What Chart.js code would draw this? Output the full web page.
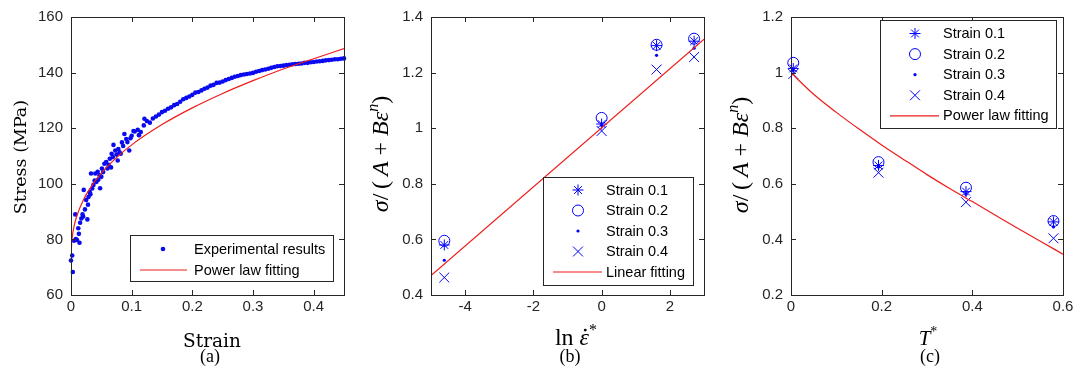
<!DOCTYPE html>
<html>
<head>
<meta charset="utf-8">
<script src="https://cdn.jsdelivr.net/npm/chart.js@4"></script>
<style>
  body { margin: 0; background: #fff; }
  #wrap { position: relative; width: 1080px; height: 375px; }
  canvas { position: absolute; top: 0; }
</style>
</head>
<body>
<div id="wrap">
  <canvas id="chartA" width="360" height="375" style="left:0"></canvas>
  <canvas id="chartB" width="360" height="375" style="left:360px"></canvas>
  <canvas id="chartC" width="360" height="375" style="left:720px"></canvas>
</div>
<script>
// (a) tensile test: measured points and power law fit
var expStrain = [
  0.000, 0.002, 0.003, 0.005, 0.007, 0.008, 0.010, 0.012, 0.013, 0.014,
  0.015, 0.017, 0.019, 0.020, 0.021, 0.023, 0.025, 0.027, 0.028, 0.029,
  0.031, 0.032, 0.033, 0.035, 0.037, 0.039, 0.040, 0.042, 0.044, 0.045,
  0.047, 0.048, 0.050, 0.051, 0.053, 0.055, 0.058, 0.060, 0.062, 0.064,
  0.066, 0.067, 0.069, 0.070, 0.073, 0.075, 0.077, 0.078, 0.080, 0.082,
  0.084, 0.086, 0.088, 0.091, 0.093, 0.096, 0.098, 0.100, 0.103, 0.105,
  0.110, 0.112, 0.115, 0.120, 0.121, 0.125, 0.130, 0.135, 0.140, 0.145,
  0.150, 0.155, 0.160, 0.165, 0.170, 0.175, 0.180, 0.185, 0.190, 0.195,
  0.200, 0.205, 0.210, 0.215, 0.220, 0.225, 0.230, 0.235, 0.240, 0.245,
  0.250, 0.255, 0.260, 0.265, 0.270, 0.275, 0.280, 0.285, 0.290, 0.295,
  0.300, 0.305, 0.310, 0.315, 0.320, 0.325, 0.330, 0.335, 0.340, 0.345,
  0.350, 0.355, 0.360, 0.365, 0.370, 0.375, 0.380, 0.385, 0.390, 0.395,
  0.400, 0.405, 0.410, 0.415, 0.420, 0.425, 0.430, 0.435, 0.440, 0.445,
  0.450
];
var expStress = [
  72.4, 74.2, 68.3, 79.5, 89.0, 80.1, 79.8, 84.0, 82.0, 78.8,
  86.0, 87.5, 89.0, 88.2, 97.8, 90.8, 94.2, 87.2, 92.5, 95.3,
  97.0, 96.2, 103.7, 98.3, 99.6, 101.2, 103.7, 100.7, 104.3, 101.5,
  103.1, 98.4, 102.5, 105.5, 104.2, 107.2, 107.8, 105.5, 106.8, 109.0,
  105.9, 110.8, 109.6, 114.0, 112.0, 110.5, 108.4, 112.5, 111.3, 110.8,
  114.9, 113.6, 117.9, 116.1, 115.0, 112.0, 116.4, 117.3, 119.0, 118.8,
  119.4, 117.5, 118.6, 121.0, 123.4, 122.6, 122.0, 123.5, 124.2, 124.9,
  125.8, 126.3, 127.0, 127.5, 128.3, 128.7, 129.5, 130.4, 130.9, 131.4,
  132.0, 132.8, 133.0, 133.6, 134.2, 134.6, 135.3, 135.6, 136.3, 136.4,
  136.8, 137.3, 137.7, 138.1, 138.5, 138.8, 139.1, 139.3, 139.5, 139.7,
  139.9, 140.3, 140.6, 140.9, 141.1, 141.4, 141.7, 142.0, 142.3, 142.4,
  142.5, 142.7, 142.8, 143.0, 143.1, 143.2, 143.3, 143.5, 143.5, 143.7,
  143.8, 144.0, 144.1, 144.2, 144.4, 144.5, 144.6, 144.8, 144.8, 145.0,
  145.1
];
var fitStrain = [0, 0.001, 0.002, 0.005, 0.01, 0.02, 0.03, 0.05, 0.075, 0.1, 0.15, 0.2, 0.25, 0.3, 0.35, 0.4, 0.45];
var fitStress = [72.0, 78.6, 80.8, 84.7, 88.7, 94.0, 97.9, 103.8, 109.4, 114.0, 121.3, 127.3, 132.5, 137.1, 141.3, 145.0, 148.6];
var xTicksA = [0, 0.1, 0.2, 0.3, 0.4];
var yTicksA = [60, 80, 100, 120, 140, 160];

// (b) strain rate dependence
var strainLabels = ['Strain 0.1', 'Strain 0.2', 'Strain 0.3', 'Strain 0.4'];
var lnRate = [-4.61, 0, 1.61, 2.71];
var rateS1 = [0.580, 1.015, 1.297, 1.313];
var rateS2 = [0.595, 1.037, 1.300, 1.322];
var rateS3 = [0.525, 1.010, 1.262, 1.288];
var rateS4 = [0.463, 0.990, 1.211, 1.256];
var rateFitX = [-5, 3];
var rateFitY = [0.47, 1.32];
var xTicksB = [-4, -2, 0, 2];
var yTicksB = [0.4, 0.6, 0.8, 1, 1.2, 1.4];

// (c) temperature dependence
var tStar = [0.005, 0.193, 0.386, 0.579];
var tempS1 = [1.015, 0.666, 0.572, 0.463];
var tempS2 = [1.035, 0.678, 0.586, 0.466];
var tempS3 = [1.008, 0.660, 0.562, 0.445];
var tempS4 = [0.995, 0.640, 0.534, 0.404];
var tempFitX = [0, 0.05, 0.1, 0.15, 0.2, 0.25, 0.3, 0.35, 0.4, 0.45, 0.5, 0.55, 0.6];
var tempFitY = [1.0, 0.922, 0.857, 0.797, 0.74, 0.686, 0.633, 0.583, 0.536, 0.488, 0.44, 0.393, 0.347];
var xTicksC = [0, 0.2, 0.4, 0.6];
var yTicksC = [0.2, 0.4, 0.6, 0.8, 1, 1.2];

var BLUE = '#0000ff';
var RED = '#ee1c1c';
var AXIS = '#262626';
var TICK_FONT = { family: '"Liberation Sans", Arial, sans-serif', size: 15 };
var LEG_FONT = '14.5px "Liberation Sans", Arial, sans-serif';
var SERIF = '"Liberation Serif", "Times New Roman", serif';

function pts(xs, ys) {
  return xs.map(function (x, i) { return { x: x, y: ys[i] }; });
}

// MATLAB-like marker sets
function markerSet(label, data, kind) {
  var ds = { label: label, data: data, borderColor: BLUE, backgroundColor: 'rgba(0,0,0,0)', borderWidth: 1, clip: false };
  if (kind === 'star') { ds.pointStyle = 'star'; ds.pointRadius = 5.5; }
  if (kind === 'circle') { ds.pointStyle = 'circle'; ds.pointRadius = 5.5; }
  if (kind === 'dot') { ds.pointStyle = 'circle'; ds.pointRadius = 1.6; ds.backgroundColor = BLUE; ds.borderWidth = 0; }
  if (kind === 'cross') { ds.pointStyle = 'crossRot'; ds.pointRadius = 7; }
  return ds;
}

function fitLine(label, data) {
  return { label: label, data: data, showLine: true, borderColor: RED, borderWidth: 1.2, pointRadius: 0,
           cubicInterpolationMode: 'monotone', fill: false };
}

// text made of pieces with their own font and vertical shift
function drawRuns(ctx, runs, cx, cy, rot) {
  ctx.save();
  ctx.translate(cx, cy);
  ctx.rotate(rot || 0);
  ctx.textAlign = 'left';
  ctx.textBaseline = 'alphabetic';
  var total = 0;
  runs.forEach(function (r) { ctx.font = r.f; r.w = ctx.measureText(r.t).width; total += r.w; });
  var x = -total / 2;
  runs.forEach(function (r) {
    ctx.font = r.f;
    ctx.fillText(r.t, x, r.dy || 0);
    if (r.dot) {
      ctx.beginPath();
      ctx.arc(x + r.w * 0.6, (r.dy || 0) - r.size * 0.62, r.size * 0.06, 0, Math.PI * 2);
      ctx.fill();
    }
    x += r.w;
  });
  ctx.restore();
}

function framePlugin(cfg) {
  return {
    id: 'frame',
    afterDraw: function (chart) {
      var ctx = chart.ctx, a = chart.chartArea;
      var xs = chart.scales.x, ys = chart.scales.y;
      ctx.save();
      ctx.strokeStyle = AXIS;
      ctx.lineWidth = 1;
      ctx.strokeRect(Math.round(a.left) + 0.5, Math.round(a.top) + 0.5,
                     Math.round(a.right - a.left), Math.round(a.bottom - a.top));
      ctx.beginPath();
      xs.ticks.forEach(function (t) {
        var p = Math.round(xs.getPixelForValue(t.value)) + 0.5;
        ctx.moveTo(p, a.bottom); ctx.lineTo(p, a.bottom - 5);
        ctx.moveTo(p, a.top); ctx.lineTo(p, a.top + 5);
      });
      ys.ticks.forEach(function (t) {
        var p = Math.round(ys.getPixelForValue(t.value)) + 0.5;
        ctx.moveTo(a.left, p); ctx.lineTo(a.left + 5, p);
        ctx.moveTo(a.right, p); ctx.lineTo(a.right - 5, p);
      });
      ctx.stroke();

      // legend box
      var L = cfg.legend;
      ctx.fillStyle = '#fff';
      ctx.fillRect(L.box[0], L.box[1], L.box[2] - L.box[0], L.box[3] - L.box[1]);
      ctx.strokeRect(L.box[0] + 0.5, L.box[1] + 0.5, L.box[2] - L.box[0], L.box[3] - L.box[1]);
      ctx.font = LEG_FONT;
      ctx.textBaseline = 'middle';
      ctx.textAlign = 'left';
      L.items.forEach(function (idx, i) {
        var ds = chart.data.datasets[idx];
        var y = L.y0 + i * L.dy;
        if (ds.showLine) {
          ctx.strokeStyle = ds.borderColor;
          ctx.lineWidth = ds.borderWidth;
          ctx.beginPath();
          ctx.moveTo(L.line[0], y); ctx.lineTo(L.line[1], y);
          ctx.stroke();
        } else {
          ctx.strokeStyle = ds.borderColor;
          ctx.fillStyle = ds.backgroundColor;
          ctx.lineWidth = ds.borderWidth || 1;
          Chart.helpers.drawPoint(ctx, { pointStyle: ds.pointStyle, radius: ds.pointRadius,
            borderWidth: ds.borderWidth, rotation: 0 }, L.mark, y);
        }
        ctx.fillStyle = '#000';
        ctx.fillText(ds.label, L.text, y + 0.5);
      });

      // axis titles and caption
      ctx.fillStyle = '#000';
      drawRuns(ctx, cfg.ytitle, cfg.ypos[0], cfg.ypos[1], -Math.PI / 2);
      drawRuns(ctx, cfg.xtitle, cfg.xpos[0], cfg.xpos[1], 0);
      drawRuns(ctx, [{ t: cfg.caption, f: '18px ' + SERIF }], cfg.cpos[0], cfg.cpos[1], 0);
      ctx.restore();
    }
  };
}

function axisOpts(min, max, tickValues) {
  return {
    type: 'linear', min: min, max: max,
    afterBuildTicks: function (s) { s.ticks = tickValues.map(function (v) { return { value: v }; }); },
    ticks: { font: TICK_FONT, color: AXIS, maxRotation: 0, autoSkip: false,
             callback: function (v) { return String(v); } },
    grid: { display: false, drawTicks: false },
    border: { display: false }
  };
}

function makeChart(id, datasets, xr, yr, cfg) {
  var x = axisOpts(xr[0], xr[1], xr[2]);
  x.ticks.padding = 3;
  x.afterFit = function (s) { s.height = 80; };
  var y = axisOpts(yr[0], yr[1], yr[2]);
  y.ticks.padding = 8;
  y.afterFit = function (s) { s.width = 71; };
  return new Chart(document.getElementById(id).getContext('2d'), {
    type: 'scatter',
    data: { datasets: datasets },
    options: {
      responsive: false,
      animation: false,
      devicePixelRatio: 1,
      layout: { padding: { left: 0, right: cfg.padRight, top: 13, bottom: 0 } },
      plugins: { legend: { display: false }, tooltip: { enabled: false } },
      scales: { x: x, y: y }
    },
    plugins: [framePlugin(cfg)]
  });
}

var mathIt = 'italic 24px ' + SERIF;
var mathUp = '24px ' + SERIF;
var mathSup = 'italic 16px ' + SERIF;
var ratioTitle = [
  { t: 'σ', f: mathIt }, { t: '/\u2009', f: mathUp }, { t: '(\u2009', f: mathUp }, { t: 'A', f: mathIt },
  { t: ' + ', f: mathUp }, { t: 'B', f: mathIt }, { t: 'ε', f: mathIt },
  { t: 'n', f: mathSup, dy: -10 }, { t: ')', f: mathUp }
];

makeChart('chartA', [
  fitLine('Power law fitting', pts(fitStrain, fitStress)),
  { label: 'Experimental results', data: pts(expStrain, expStress), pointStyle: 'circle',
    pointRadius: 2.3, backgroundColor: '#0a0af0', borderWidth: 0, clip: false }
], [0, 0.45, xTicksA], [60, 160, yTicksA], {
  padRight: 16,
  legend: { box: [130, 235, 333, 281], items: [1, 0], y0: 249, dy: 21, mark: 163, line: [140, 187], text: 194 },
  ytitle: [{ t: 'Stress (MPa)', f: '17.5px "DejaVu Serif", serif' }], ypos: [26, 157],
  xtitle: [{ t: 'Strain', f: '18.5px "DejaVu Serif", serif' }], xpos: [212, 347],
  caption: '(a)', cpos: [210, 362]
});

makeChart('chartB', [
  fitLine('Linear fitting', pts(rateFitX, rateFitY)),
  markerSet(strainLabels[0], pts(lnRate, rateS1), 'star'),
  markerSet(strainLabels[1], pts(lnRate, rateS2), 'circle'),
  markerSet(strainLabels[2], pts(lnRate, rateS3), 'dot'),
  markerSet(strainLabels[3], pts(lnRate, rateS4), 'cross')
], [-5, 3, xTicksB], [0.4, 1.4, yTicksB], {
  padRight: 16,
  legend: { box: [183, 177, 333, 285], items: [1, 2, 3, 4, 0], y0: 190, dy: 20.5, mark: 218, line: [193, 242], text: 246 },
  ytitle: ratioTitle, ypos: [28, 154],
  xtitle: [{ t: 'ln ', f: mathUp }, { t: 'ε', f: mathIt, dot: true, size: 24 }, { t: '*', f: '16px ' + SERIF, dy: -10 }],
  xpos: [216, 345],
  caption: '(b)', cpos: [210, 362]
});

makeChart('chartC', [
  fitLine('Power law fitting', pts(tempFitX, tempFitY)),
  markerSet(strainLabels[0], pts(tStar, tempS1), 'star'),
  markerSet(strainLabels[1], pts(tStar, tempS2), 'circle'),
  markerSet(strainLabels[2], pts(tStar, tempS3), 'dot'),
  markerSet(strainLabels[3], pts(tStar, tempS4), 'cross')
], [0, 0.6, xTicksC], [0.2, 1.2, yTicksC], {
  padRight: 17,
  legend: { box: [160, 20, 336, 128], items: [1, 2, 3, 4, 0], y0: 33.5, dy: 20.6, mark: 195, line: [170, 219], text: 223 },
  ytitle: ratioTitle, ypos: [28, 155],
  xtitle: [{ t: 'T', f: 'italic 21px ' + SERIF }, { t: '*', f: '14px ' + SERIF, dy: -9 }], xpos: [208, 345],
  caption: '(c)', cpos: [210, 362]
});
</script>
</body>
</html>
